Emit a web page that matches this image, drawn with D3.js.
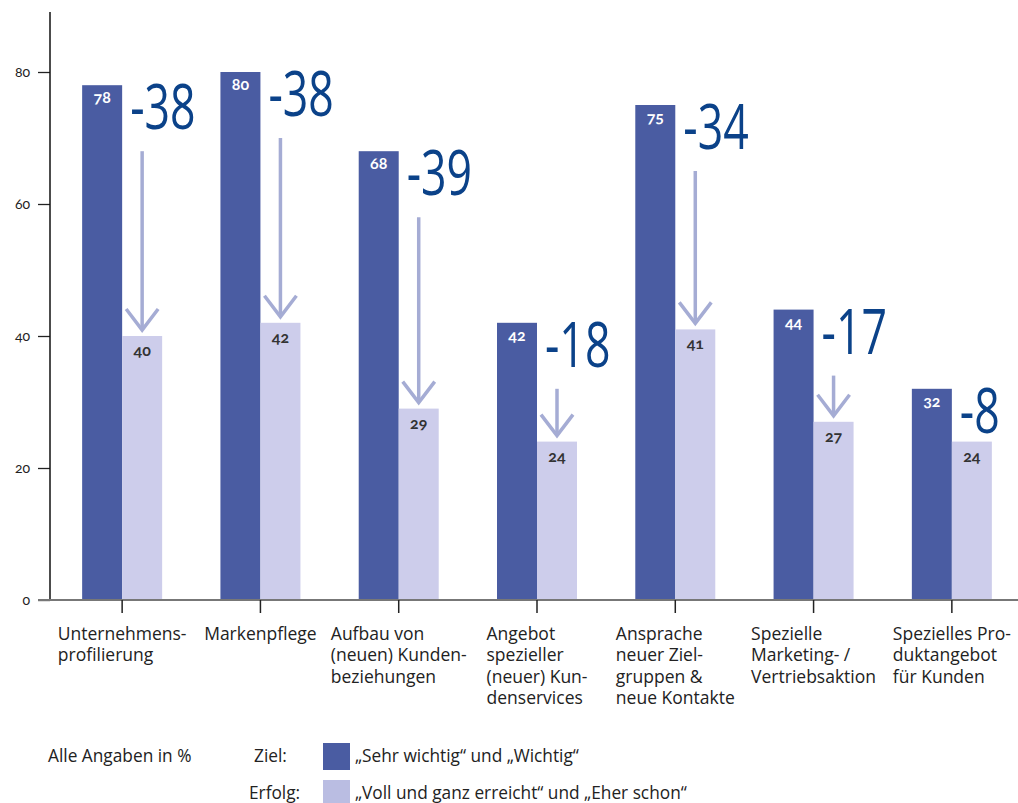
<!DOCTYPE html>
<head>
  <meta charset="utf-8">
  <script src="https://d3js.org/d3.v7.min.js"></script>
  <style>
    body {
      margin: 0;
      font-family: "Open Sans", sans-serif;
      background: #fff;
    }
    .num {
      font-family: Lato, "Open Sans", sans-serif;
      font-feature-settings: "onum";
      font-variant-numeric: oldstyle-nums;
    }
    .y-axis text {
      font-size: 14px;
      fill: #222;
    }
    .y-axis line, .x-axis line {
      stroke: #222;
    }
    .cat-label {
      font-size: 17.5px;
      fill: #222;
    }
    .legend text {
      font-size: 17.3px;
      fill: #222;
    }
  </style>
</head>

<body>
  <svg id="chart" width="1018" height="803"></svg>

  <script>
    // Kategorien, jede Zeile wie im Original umbrochen
    var categories = [
      ["Unternehmens-", "profilierung"],
      ["Markenpflege"],
      ["Aufbau von", "(neuen) Kunden-", "beziehungen"],
      ["Angebot", "spezieller", "(neuer) Kun-", "denservices"],
      ["Ansprache", "neuer Ziel-", "gruppen &", "neue Kontakte"],
      ["Spezielle", "Marketing- /", "Vertriebsaktion"],
      ["Spezielles Pro-", "duktangebot", "für Kunden"]
    ];
    var ziel = [78, 80, 68, 42, 75, 44, 32];
    var erfolg = [40, 42, 29, 24, 41, 27, 24];
    var yTicks = [0, 20, 40, 60, 80];
    var legendLabels = ["„Sehr wichtig“ und „Wichtig“", "„Voll und ganz erreicht“ und „Eher schon“"];
    var legendNames = ["Ziel:", "Erfolg:"];

    var darkBlue = "#4a5ca2",
        lightBlue = "#cdcdeb",
        arrowColor = "#a5acd4",
        diffColor = "#0b4289";

    var svg = d3.select("#chart");

    var keys = categories.map(function(d) { return d.join(" "); });

    var x = d3.scaleBand()
      .domain(keys)
      .range([53, 1021]);

    var y = d3.scaleLinear()
      .domain([0, 80])
      .range([600, 72]);

    var barW = 40;
    function center(i) { return x(keys[i]) + x.bandwidth() / 2; }

    // y-Achse
    var yAxis = svg.append("g")
      .attr("class", "y-axis num")
      .attr("transform", "translate(50,0)")
      .call(d3.axisLeft(y).tickValues(yTicks).tickSize(12).tickPadding(8));
    yAxis.select(".domain").remove();
    yAxis.selectAll("line").attr("stroke-width", 1.3);

    svg.append("line")
      .attr("x1", 50).attr("x2", 50)
      .attr("y1", 12).attr("y2", y(0))
      .attr("stroke", "#111")
      .attr("stroke-width", 1.5);

    // Balken
    var groups = svg.append("g").selectAll("g")
        .data(keys)
      .enter().append("g");

    groups.append("rect")
      .attr("x", function(d, i) { return center(i) - barW; })
      .attr("y", function(d, i) { return y(ziel[i]); })
      .attr("width", barW)
      .attr("height", function(d, i) { return y(0) - y(ziel[i]); })
      .attr("fill", darkBlue);

    groups.append("rect")
      .attr("x", function(d, i) { return center(i); })
      .attr("y", function(d, i) { return y(erfolg[i]); })
      .attr("width", barW)
      .attr("height", function(d, i) { return y(0) - y(erfolg[i]); })
      .attr("fill", lightBlue);

    groups.append("text")
      .attr("class", "num")
      .attr("x", function(d, i) { return center(i) - barW / 2; })
      .attr("y", function(d, i) { return y(ziel[i]) + 18; })
      .attr("text-anchor", "middle")
      .attr("fill", "#fff")
      .attr("font-weight", "bold")
      .attr("font-size", "16px")
      .text(function(d, i) { return ziel[i]; });

    groups.append("text")
      .attr("class", "num")
      .attr("x", function(d, i) { return center(i) + barW / 2; })
      .attr("y", function(d, i) { return y(erfolg[i]) + 20; })
      .attr("text-anchor", "middle")
      .attr("fill", "#333")
      .attr("font-weight", "bold")
      .attr("font-size", "16px")
      .text(function(d, i) { return erfolg[i]; });

    // Differenzen
    groups.append("text")
      .attr("transform", function(d, i) {
        return "translate(" + (center(i) + 8) + "," + (y(ziel[i]) + 44) + ") scale(0.72,1)";
      })
      .attr("fill", diffColor)
      .attr("font-size", "62px")
      .text(function(d, i) { return "-" + (ziel[i] - erfolg[i]); });

    // Pfeile
    groups.each(function(d, i) {
      var top = y(ziel[i]) + 66,
          tip = y(erfolg[i]) - 6,
          cx = center(i) + barW / 2;
      if (tip - top < 30) return;
      var g = d3.select(this);
      g.append("line")
        .attr("x1", cx).attr("x2", cx)
        .attr("y1", top).attr("y2", tip - 1)
        .attr("stroke", arrowColor)
        .attr("stroke-width", 3.5);
      g.append("path")
        .attr("d", "M" + (cx - 16) + "," + (tip - 21) + "L" + cx + "," + tip + "L" + (cx + 16) + "," + (tip - 21))
        .attr("fill", "none")
        .attr("stroke", arrowColor)
        .attr("stroke-width", 3.5);
    });

    // Grundlinie und x-Achse
    svg.append("line")
      .attr("x1", 38).attr("x2", 1018)
      .attr("y1", y(0)).attr("y2", y(0))
      .attr("stroke", "#777")
      .attr("stroke-width", 2);

    var xAxis = svg.append("g")
      .attr("class", "x-axis")
      .attr("transform", "translate(0," + y(0) + ")")
      .call(d3.axisBottom(x).tickSize(13).tickFormat(""));
    xAxis.select(".domain").remove();
    xAxis.selectAll("line").attr("stroke-width", 1.5);

    // Kategorie-Beschriftungen (Block zentriert, Zeilen linksbündig)
    groups.each(function(d, i) {
      var t = d3.select(this).append("text")
        .attr("class", "cat-label")
        .attr("y", 640);
      categories[i].forEach(function(line, j) {
        t.append("tspan")
          .attr("x", 0)
          .attr("dy", j === 0 ? 0 : 21.3)
          .text(line);
      });
      var w = t.node().getBBox().width;
      t.attr("transform", "translate(" + (center(i) - w / 2) + ",0)");
    });

    // Legende
    var legend = svg.append("g").attr("class", "legend");

    legend.append("text")
      .attr("x", 48).attr("y", 762)
      .text("Alle Angaben in %");

    legend.selectAll("text.name")
        .data(legendNames)
      .enter().append("text")
        .attr("class", "name")
        .attr("x", function(d, i) { return i === 0 ? 254 : 249; })
        .attr("y", function(d, i) { return 762 + i * 37; })
        .text(function(d) { return d; });

    legend.selectAll("rect")
        .data([darkBlue, "#babde2"])
      .enter().append("rect")
        .attr("x", 323)
        .attr("y", function(d, i) { return 743 + i * 37; })
        .attr("width", 27)
        .attr("height", 27)
        .attr("fill", function(d) { return d; });

    legend.selectAll("text.label")
        .data(legendLabels)
      .enter().append("text")
        .attr("class", "label")
        .attr("x", 355)
        .attr("y", function(d, i) { return 762 + i * 37; })
        .text(function(d) { return d; });
  </script>
</body>
